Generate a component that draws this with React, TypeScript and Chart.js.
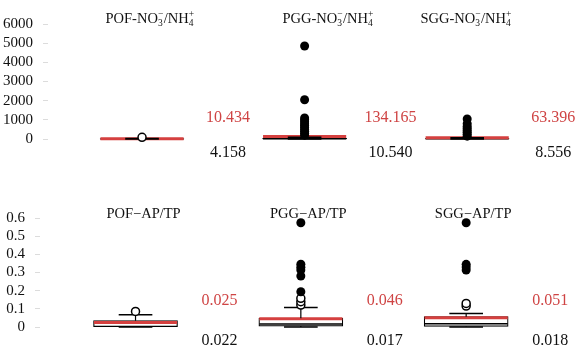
import React, { useEffect, useRef } from 'react';
import { Chart, registerables } from 'chart.js';
Chart.register(...registerables);

// ---------- DATA ----------
const categories = ['POF', 'PGG', 'SGG'];

// Top row: NO3-/NH4+
const no3Lo = [0, 0, 0];
const no3Q1 = [1.5, 3, 2];
const no3Median = [4.158, 10.54, 8.556];
const no3Q3 = [10, 40, 25];
const no3Hi = [25, 90, 60];
const no3Mean = [10.434, 134.165, 63.396];
const no3OpenOutliers = [[90], [], []];
const no3FilledOutliers = [
  [],
  [4850, 2050, 1100, 1000, 900, 800, 700, 600, 500, 400, 300, 200],
  [1050, 800, 650, 550, 450, 350, 250, 150],
];
const no3TickLabels = ['0', '1000', '2000', '3000', '4000', '5000', '6000'];

// Bottom row: AP/TP
const apLo = [0, 0, 0];
const apQ1 = [0.002, 0.005, 0.003];
const apMedian = [0.022, 0.017, 0.018];
const apQ3 = [0.035, 0.048, 0.057];
const apHi = [0.068, 0.108, 0.075];
const apMean = [0.025, 0.046, 0.051];
const apOpenOutliers = [[0.086], [0.121, 0.139, 0.158], [0.115, 0.13]];
const apFilledOutliers = [
  [],
  [0.194, 0.281, 0.314, 0.329, 0.346, 0.574],
  [0.314, 0.33, 0.345, 0.574],
];
const apTickLabels = ['0', '0.1', '0.2', '0.3', '0.4', '0.5', '0.6'];

// Titles: plain strings, or [subscript, superscript] pairs
type Part = string | [string, string];
const no3Titles: Part[][] = categories.map((c) => [c + '-NO', ['3', '−'], '/NH', ['4', '+']]);
const apTitles: Part[][] = categories.map((c) => [c + '−AP/TP']);

// ---------- STYLE ----------
const FONT = '"Liberation Serif", "Times New Roman", serif';
const RED = '#d5403f';
const RED_TEXT = '#cf4444';

interface Panel {
  lo: number[]; q1: number[]; median: number[]; q3: number[]; hi: number[]; mean: number[];
  open: number[][]; filled: number[][]; tickLabels: string[]; titles: Part[][];
  yMax: number; yStep: number;
  axisWidth: number; padTop: number; padBottom: number;
  xMin: number; xMax: number; pxPerUnit: number;
  titleOffsets: number[]; titleY: number; labelDx: number; meanY: number; medianY: number;
}

const seg = (list: [number, number, number, number][]) => {
  const out: { x: number; y: number | null }[] = [];
  list.forEach(([x1, y1, x2, y2]) => {
    out.push({ x: x1, y: y1 }, { x: x2, y: y2 }, { x: x2, y: null });
  });
  return out;
};

function drawTitle(ctx: CanvasRenderingContext2D, parts: Part[], cx: number, y: number) {
  const main = `14.5px ${FONT}`;
  const small = `9.5px ${FONT}`;
  let w = 0;
  parts.forEach((p) => {
    if (typeof p === 'string') { ctx.font = main; w += ctx.measureText(p).width; }
    else { ctx.font = small; w += Math.max(ctx.measureText(p[0]).width, ctx.measureText(p[1]).width) + 0.5; }
  });
  let x = cx - w / 2;
  ctx.fillStyle = '#111';
  ctx.textAlign = 'left';
  ctx.textBaseline = 'alphabetic';
  parts.forEach((p) => {
    if (typeof p === 'string') {
      ctx.font = main; ctx.fillText(p, x, y); x += ctx.measureText(p).width;
    } else {
      ctx.font = small;
      ctx.fillText(p[0], x, y + 3);
      ctx.fillText(p[1], x, y - 6);
      x += Math.max(ctx.measureText(p[0]).width, ctx.measureText(p[1]).width) + 0.5;
    }
  });
}

function makeConfig(p: Panel): any {
  const half = 42 / p.pxPerUnit;
  const capHalf = 17 / p.pxPerUnit;
  const idx = categories.map((_, i) => i);
  const textPlugin = {
    id: 'panelText',
    afterDatasetsDraw(chart: any) {
      const ctx = chart.ctx as CanvasRenderingContext2D;
      const xs = chart.scales.x;
      ctx.save();
      idx.forEach((i) => {
        const cx = xs.getPixelForValue(i + 1);
        drawTitle(ctx, p.titles[i], cx + p.titleOffsets[i], p.titleY);
        ctx.font = `16px ${FONT}`;
        ctx.textAlign = 'center';
        ctx.textBaseline = 'middle';
        ctx.fillStyle = RED_TEXT;
        ctx.fillText(p.mean[i].toFixed(3), cx + p.labelDx, p.meanY);
        ctx.fillStyle = '#111';
        ctx.fillText(p.median[i].toFixed(3), cx + p.labelDx, p.medianY);
      });
      ctx.restore();
    },
  };
  return {
    type: 'bar',
    data: {
      datasets: [
        {
          type: 'scatter', order: 0, clip: false,
          data: idx.flatMap((i) => p.filled[i].map((v) => ({ x: i + 1, y: v }))),
          pointRadius: 4.5, pointBackgroundColor: '#000', pointBorderColor: '#000', pointBorderWidth: 0,
        },
        {
          type: 'scatter', order: 1, clip: false,
          data: idx.flatMap((i) => p.open[i].map((v) => ({ x: i + 1, y: v }))),
          pointRadius: 4, pointBackgroundColor: '#fff', pointBorderColor: '#000', pointBorderWidth: 1.5,
        },
        {
          type: 'line', order: 2, clip: false, pointRadius: 0, borderColor: '#000', borderWidth: 1.5,
          data: seg(idx.flatMap((i) => [
            [i + 1 - capHalf, p.hi[i], i + 1 + capHalf, p.hi[i]],
            [i + 1 - capHalf, p.lo[i], i + 1 + capHalf, p.lo[i]],
          ] as [number, number, number, number][])),
        },
        {
          type: 'line', order: 3, clip: false, pointRadius: 0, borderColor: '#000', borderWidth: 1.2,
          data: seg(idx.flatMap((i) => [
            [i + 1, p.q3[i], i + 1, p.hi[i]],
            [i + 1, p.lo[i], i + 1, p.q1[i]],
          ] as [number, number, number, number][])),
        },
        {
          type: 'line', order: 4, clip: false, pointRadius: 0, borderColor: RED, borderWidth: 3,
          data: seg(idx.map((i) => [i + 1 - half, p.mean[i], i + 1 + half, p.mean[i]] as [number, number, number, number])),
        },
        {
          type: 'line', order: 5, clip: false, pointRadius: 0, borderColor: '#000', borderWidth: 1.5,
          data: seg(idx.map((i) => [i + 1 - half, p.median[i], i + 1 + half, p.median[i]] as [number, number, number, number])),
        },
        {
          type: 'bar', order: 6, clip: false,
          data: idx.map((i) => ({ x: i + 1, y: [p.q1[i], p.q3[i]] })),
          backgroundColor: '#fff', borderColor: '#000', borderWidth: 1.2, borderSkipped: false,
          barThickness: 84, grouped: false,
        },
      ],
    },
    options: {
      animation: false,
      responsive: false,
      layout: { padding: { top: p.padTop, bottom: p.padBottom, left: 0, right: 0 } },
      plugins: { legend: { display: false }, tooltip: { enabled: false } },
      scales: {
        x: { type: 'linear', display: false, min: p.xMin, max: p.xMax, offset: false },
        y: {
          min: 0, max: p.yMax,
          ticks: {
            stepSize: p.yStep,
            autoSkip: false,
            callback: (_v: any, i: number) => p.tickLabels[i],
            color: '#111',
            font: { family: FONT, size: 15 },
            padding: 10,
          },
          grid: { drawOnChartArea: false, drawTicks: true, tickLength: 5, color: '#dcdcdc' },
          border: { display: false },
          afterFit: (s: any) => { s.width = p.axisWidth; },
        },
      },
    },
    plugins: [textPlugin],
  };
}

const topPanel: Panel = {
  lo: no3Lo, q1: no3Q1, median: no3Median, q3: no3Q3, hi: no3Hi, mean: no3Mean,
  open: no3OpenOutliers, filled: no3FilledOutliers, tickLabels: no3TickLabels, titles: no3Titles,
  yMax: 6000, yStep: 1000,
  axisWidth: 48, padTop: 24, padBottom: 39,
  xMin: 0.4216, xMax: 3.697, pxPerUnit: 164.25,
  titleOffsets: [8, 23.5, -1], titleY: 23, labelDx: 86, meanY: 118, medianY: 153,
};

const bottomPanel: Panel = {
  lo: apLo, q1: apQ1, median: apMedian, q3: apQ3, hi: apHi, mean: apMean,
  open: apOpenOutliers, filled: apFilledOutliers, tickLabels: apTickLabels, titles: apTitles,
  yMax: 0.6, yStep: 0.1,
  axisWidth: 40, padTop: 40, padBottom: 29,
  xMin: 0.4222, xMax: 3.6916, pxPerUnit: 167,
  titleOffsets: [8, 7.5, 7], titleY: 40, labelDx: 84, meanY: 123, medianY: 163,
};

function PanelChart({ panel, top }: { panel: Panel; top: number }) {
  const ref = useRef<HTMLCanvasElement>(null);
  useEffect(() => {
    if (!ref.current) return;
    const chart = new Chart(ref.current, makeConfig(panel));
    return () => chart.destroy();
  }, [panel]);
  return (
    <div style={{ position: 'absolute', left: 0, top, width: 586, height: 178 }}>
      <canvas ref={ref} width={586} height={178} style={{ width: 586, height: 178, display: 'block' }} />
    </div>
  );
}

export default function App() {
  return (
    <div style={{ position: 'fixed', left: 0, top: 0, width: 586, height: 356, background: '#fff' }}>
      <PanelChart panel={topPanel} top={0} />
      <PanelChart panel={bottomPanel} top={178} />
    </div>
  );
}
